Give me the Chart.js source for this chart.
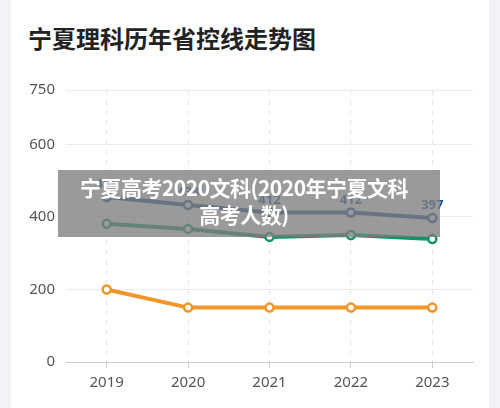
<!DOCTYPE html><html><head><meta charset="utf-8">
<script src="https://cdn.jsdelivr.net/npm/chart.js@4"></script>
<style>
body{margin:0;background:#f2f3f7;width:500px;height:408px;overflow:hidden;font-family:"Noto Sans CJK SC",sans-serif}
#card{position:absolute;left:11px;top:0;width:478px;height:408px;background:#fff}
#title{position:absolute;left:17px;top:20px;font-size:24px;font-weight:bold;color:#222}
#wrap{position:absolute;left:0;top:60px;width:478px;height:348px}
#ov{position:absolute;left:47px;top:170px;width:382px;height:67px;background:rgba(125,125,125,0.78);color:#fff;font-weight:bold;font-size:21px;text-align:center;line-height:27px;box-sizing:border-box;padding:4px 10px 0 0;letter-spacing:-0.5px;white-space:nowrap}
</style></head><body>
<div id="card"><div id="title">宁夏理科历年省控线走势图</div><div id="wrap"><canvas id="c"></canvas></div>
<div id="ov">宁夏高考2020文科(2020年宁夏文科<br>高考人数)</div></div>
<script>
const years=["2019","2020","2021","2022","2023"];
const blue=[455,433,412,412,397];
const green=[381,367,345,350,339];
const orange=[200,150,150,150,150];
const yTicks=[0,200,400,600,750];
const lbl={id:'lbl',afterDatasetsDraw(ch){const c=ch.ctx;const m=ch.getDatasetMeta(0);c.save();c.font='bold 13px "Noto Sans",sans-serif';c.fillStyle='#1f4e9a';c.textAlign='center';c.textBaseline='bottom';m.data.forEach((p,i)=>c.fillText(blue[i],p.x,p.y-6));c.restore();}};
function ds(d,col){return {data:d,borderColor:col,backgroundColor:'#fff',borderWidth:4,pointRadius:4,pointBorderWidth:2.5,pointBorderColor:col,pointBackgroundColor:'#fff',tension:0}}
new Chart(document.getElementById('c'),{type:'line',data:{labels:years,datasets:[ds(blue,'#1f4e9a'),ds(green,'#13936a'),ds(orange,'#f2962a')]},
options:{responsive:true,maintainAspectRatio:false,animation:false,layout:{padding:{top:30,right:16,left:0,bottom:0}},
plugins:{legend:{display:false},tooltip:{enabled:false}},
scales:{x:{offset:true,afterFit(s){s.height=46},grid:{offset:false,color:'#e6e6e6',tickLength:6,tickColor:'#ccc'},border:{color:'#ccc',dash:[5,5]},ticks:{color:'#555',font:{size:15,family:'"Noto Sans",sans-serif'},padding:6}},
y:{min:0,max:750,afterFit(s){s.width=55},afterBuildTicks(s){s.ticks=yTicks.map(v=>({value:v}))},grid:{color:'#ebebeb',drawTicks:false},border:{display:false},ticks:{color:'#555',padding:11,font:{size:15,family:'"Noto Sans",sans-serif'}}}}},plugins:[lbl]});
</script></body></html>
